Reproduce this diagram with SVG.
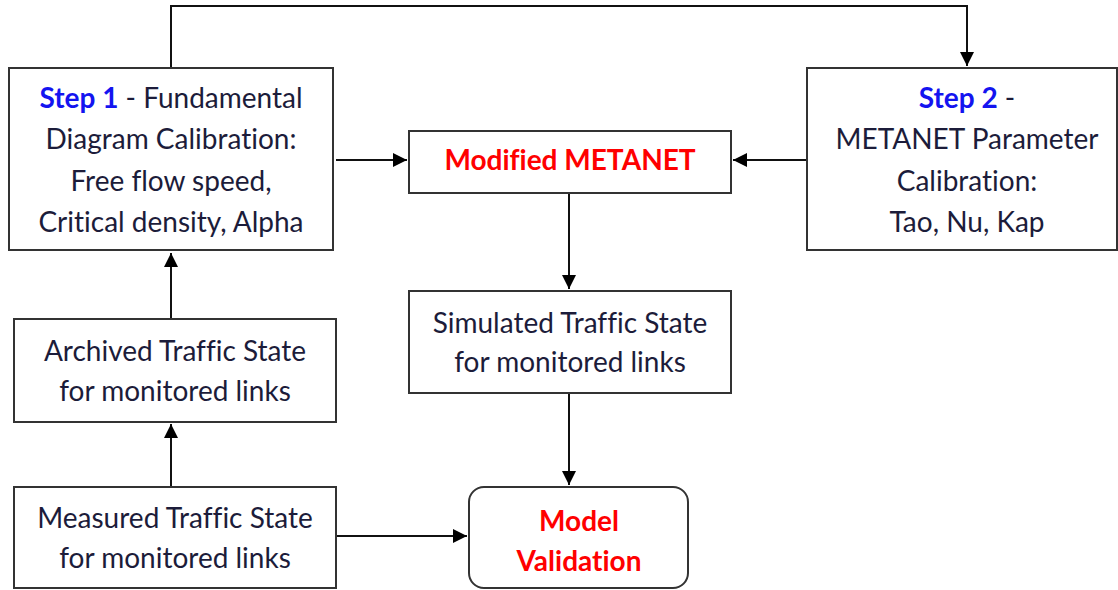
<svg xmlns="http://www.w3.org/2000/svg" width="1118" height="590" viewBox="0 0 1118 590">
  <defs>
    <marker id="arrow" viewBox="0 0 10 10" refX="10" refY="5" markerWidth="15" markerHeight="14" markerUnits="userSpaceOnUse" orient="auto">
      <path d="M0,0 L10,5 L0,10 Z" fill="#000"/>
    </marker>
    <style>
      .box { fill: #fff; stroke: #333; stroke-width: 2; }
      .t { font-family: Lato, "Liberation Sans", sans-serif; font-size: 28px; fill: #1c1c3a; text-anchor: middle; font-variant-ligatures: none; font-feature-settings: "liga" 0, "clig" 0, "dlig" 0, "calt" 0; }
      .blue { fill: #1414f0; font-weight: bold; }
      .red { fill: #ff0000; font-weight: bold; }
      .conn { fill: none; stroke: #111; stroke-width: 2; }
    </style>
  </defs>
  <rect width="1118" height="590" fill="#fff"/>

  <g id="connectors">
    <path class="conn" d="M171,68 V6 H967 V66" marker-end="url(#arrow)"/>
    <path class="conn" d="M336,160 H407" marker-end="url(#arrow)"/>
    <path class="conn" d="M807,160 H733" marker-end="url(#arrow)"/>
    <path class="conn" d="M569,193 V289" marker-end="url(#arrow)"/>
    <path class="conn" d="M569,393 V485" marker-end="url(#arrow)"/>
    <path class="conn" d="M171,319 V253" marker-end="url(#arrow)"/>
    <path class="conn" d="M171,487 V424" marker-end="url(#arrow)"/>
    <path class="conn" d="M336,536 H467" marker-end="url(#arrow)"/>
  </g>

  <g id="step1">
    <rect class="box" x="9" y="68" width="324" height="182"/>
    <text class="t" x="171" y="108"><tspan class="blue">Step 1</tspan> - Fundamental</text>
    <text class="t" x="171" y="149">Diagram Calibration:</text>
    <text class="t" x="171" y="191">Free flow speed,</text>
    <text class="t" x="171" y="232">Critical density, Alpha</text>
  </g>

  <g id="step2">
    <rect class="box" x="807" y="68" width="310" height="182"/>
    <text class="t" x="967" y="108"><tspan class="blue">Step 2</tspan> -</text>
    <text class="t" x="967" y="149">METANET Parameter</text>
    <text class="t" x="967" y="191">Calibration:</text>
    <text class="t" x="967" y="232">Tao, Nu, Kap</text>
  </g>

  <g id="metanet">
    <rect class="box" x="409" y="131" width="322" height="62"/>
    <text class="t red" x="570" y="170">Modified METANET</text>
  </g>

  <g id="simulated">
    <rect class="box" x="409" y="291" width="322" height="102"/>
    <text class="t" x="570" y="333">Simulated Traffic State</text>
    <text class="t" x="570" y="372">for monitored links</text>
  </g>

  <g id="archived">
    <rect class="box" x="14" y="319" width="322" height="103"/>
    <text class="t" x="175" y="361">Archived Traffic State</text>
    <text class="t" x="175" y="401">for monitored links</text>
  </g>

  <g id="measured">
    <rect class="box" x="14" y="487" width="322" height="101"/>
    <text class="t" x="175" y="528">Measured Traffic State</text>
    <text class="t" x="175" y="568">for monitored links</text>
  </g>

  <g id="validation">
    <rect class="box" x="469" y="487" width="219" height="101" rx="15" ry="15"/>
    <text class="t red" x="579" y="531">Model</text>
    <text class="t red" x="579" y="571">Validation</text>
  </g>
</svg>
